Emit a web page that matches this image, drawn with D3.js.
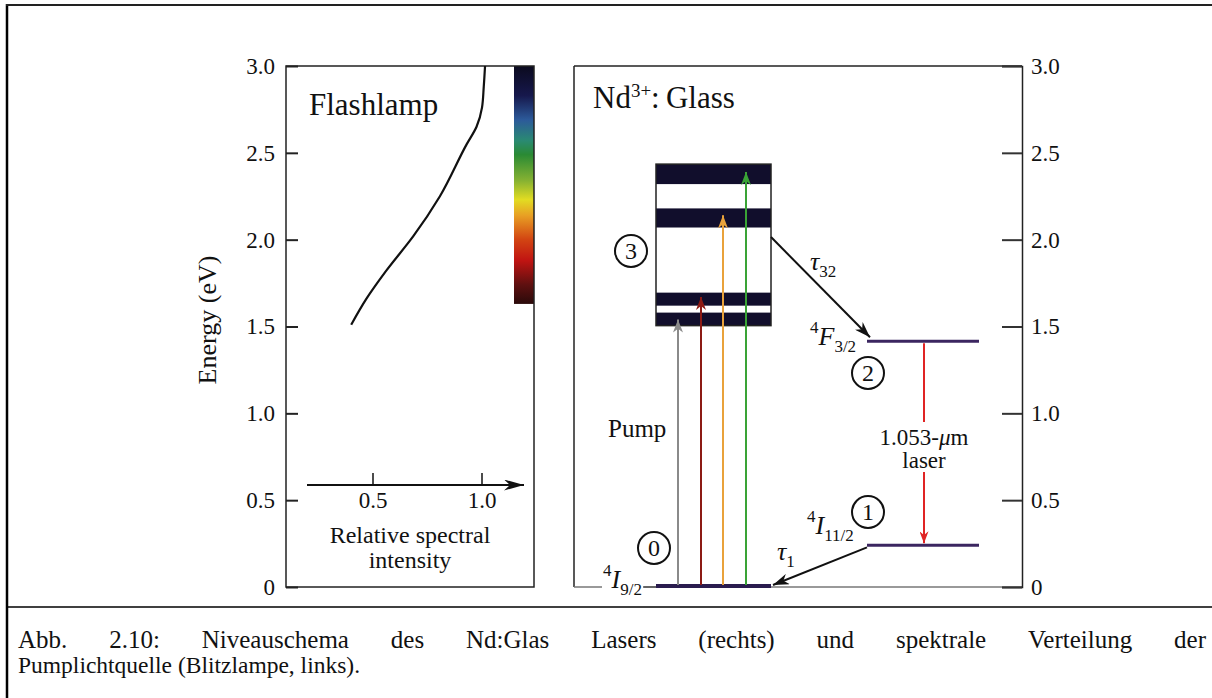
<!DOCTYPE html>
<html>
<head>
<meta charset="utf-8">
<script src="https://cdn.jsdelivr.net/npm/d3@7"></script>
<style>
  body { margin: 0; background: #fff; }
  svg { display: block; }
  svg text { font-family: "Liberation Serif", "Nimbus Roman", "DejaVu Serif", serif !important; fill: #111; }
</style>
</head>
<body>
<script>
// ---- data ----
let energyTicks = [0, 0.5, 1.0, 1.5, 2.0, 2.5, 3.0]
let energyLabels = ["0", "0.5", "1.0", "1.5", "2.0", "2.5", "3.0"]

// flashlamp spectrum (relative intensity vs energy in eV)
let lampIntensity = [0.40, 0.47, 0.56, 0.685, 0.807, 0.93, 0.975, 1.0, 1.008, 1.014]
let lampEnergy = [1.51, 1.66, 1.82, 2.02, 2.25, 2.55, 2.65, 2.76, 2.88, 3.0]
let intensityTicks = [0.5, 1.0]
let intensityLabels = ["0.5", "1.0"]

// visible spectrum strip next to the lamp curve
let spectrumEnergy = [3.0, 2.83, 2.69, 2.57, 2.49, 2.34, 2.23, 2.14, 2.0, 1.88, 1.74, 1.63]
let spectrumColor = ["#0b0a1e", "#16184c", "#2c5a9a", "#2a8a72", "#2a8a34", "#86b232",
                     "#e2dc22", "#e8a024", "#d24412", "#c01412", "#5e1010", "#2a0a0a"]

// pump bands of level 3, ground / laser levels (eV)
let bandLow = [1.505, 1.62, 2.07, 2.32]
let bandHigh = [1.58, 1.695, 2.18, 2.435]
let pumpEnergy = [1.54, 1.67, 2.14, 2.39]
let pumpColor = ["#8a8a8a", "#8c1a14", "#e9a23b", "#3aa336"]
let levelUpper = 1.415   // 4F3/2
let levelLower = 0.24    // 4I11/2
let levelGround = 0      // 4I9/2

let captionLines = [
  "Abb. 2.10:  Niveauschema des Nd:Glas Lasers (rechts) und spektrale Verteilung der",
  "Pumplichtquelle (Blitzlampe, links)."
]

// ---- layout ----
let width = 1212, height = 698

let svg = d3.select("body").append("svg")
    .attr("width", width)
    .attr("height", height)
    .attr("font-family", "Liberation Serif")

let defs = svg.append("defs")

// shared energy scale for both panels
let y = d3.scaleLinear().domain([0, 3]).range([587, 66])
let xI = d3.scaleLinear().domain([0, 1]).range([264, 482])

// arrow head markers
function marker(id, color, len, wid) {
  defs.append("marker")
    .attr("id", id)
    .attr("viewBox", `0 0 ${len} ${wid}`)
    .attr("refX", len).attr("refY", wid / 2)
    .attr("markerWidth", len).attr("markerHeight", wid)
    .attr("markerUnits", "userSpaceOnUse")
    .attr("orient", "auto")
    .append("path")
    .attr("d", `M0,0 L${len},${wid / 2} L0,${wid} L${len * 0.3},${wid / 2} Z`)
    .attr("fill", color)
}
pumpColor.forEach((c, i) => marker("pump" + i, c, 13, 10))
marker("black", "#111", 16, 11)
marker("red", "#e02424", 12, 9)
marker("axis", "#111", 20, 11)

// outer frame (left and top edge) and caption separator
svg.append("line").attr("x1", 7).attr("x2", 7).attr("y1", 4).attr("y2", height)
  .attr("stroke", "#000").attr("stroke-width", 2.5)
svg.append("line").attr("x1", 6).attr("x2", width).attr("y1", 5).attr("y2", 5)
  .attr("stroke", "#222").attr("stroke-width", 2)
svg.append("line").attr("x1", 6).attr("x2", width).attr("y1", 607).attr("y2", 607)
  .attr("stroke", "#000").attr("stroke-width", 1.5)

// ================= left panel: flashlamp =================
let left = svg.append("g")
let lx0 = 286, lx1 = 534

// spectrum strip
let grad = defs.append("linearGradient").attr("id", "spec")
  .attr("gradientUnits", "userSpaceOnUse")
  .attr("x1", 0).attr("x2", 0).attr("y1", y(3)).attr("y2", y(1.63))
grad.selectAll("stop").data(spectrumEnergy).enter().append("stop")
  .attr("offset", d => (y(d) - y(3)) / (y(1.63) - y(3)))
  .attr("stop-color", (d, i) => spectrumColor[i])
left.append("rect")
  .attr("x", 514).attr("width", lx1 - 514)
  .attr("y", y(3)).attr("height", y(1.63) - y(3))
  .attr("fill", "url(#spec)")

left.append("rect")
  .attr("x", lx0).attr("y", y(3)).attr("width", lx1 - lx0).attr("height", y(0) - y(3))
  .attr("fill", "none").attr("stroke", "#222").attr("stroke-width", 1.5)

let leftAxis = d3.axisLeft(y).tickValues(energyTicks)
  .tickFormat((d, i) => energyLabels[i]).tickSize(-12).tickPadding(11)
left.append("g").attr("transform", `translate(${lx0},0)`).call(leftAxis)
  .call(g => g.select(".domain").remove())
  .call(g => g.selectAll(".tick line").attr("stroke", "#222").attr("stroke-width", 2))
  .call(g => g.selectAll(".tick text").attr("font-size", 23).attr("fill", "#111"))

left.append("text")
  .attr("transform", "translate(210,320) rotate(-90)")
  .attr("text-anchor", "middle").attr("dominant-baseline", "middle")
  .attr("font-size", 26).text("Energy (eV)")

left.append("text").attr("x", 309).attr("y", 115).attr("font-size", 31).text("Flashlamp")

// lamp curve
let lampLine = d3.line()
  .x(d => xI(d[0])).y(d => y(d[1]))
  .curve(d3.curveMonotoneY)
left.append("path")
  .attr("d", lampLine(lampIntensity.map((v, i) => [v, lampEnergy[i]])))
  .attr("fill", "none").attr("stroke", "#111").attr("stroke-width", 2.2)

// intensity axis arrow
let axY = 485
left.append("line").attr("x1", 307).attr("x2", 524).attr("y1", axY).attr("y2", axY)
  .attr("stroke", "#111").attr("stroke-width", 2).attr("marker-end", "url(#axis)")
left.selectAll(".itick").data(intensityTicks).enter().append("line")
  .attr("x1", d => xI(d)).attr("x2", d => xI(d))
  .attr("y1", axY).attr("y2", axY - 12)
  .attr("stroke", "#111").attr("stroke-width", 1.5)
left.selectAll(".ilab").data(intensityTicks).enter().append("text")
  .attr("x", d => xI(d)).attr("y", 508).attr("text-anchor", "middle")
  .attr("font-size", 23).text((d, i) => intensityLabels[i])
left.append("text").attr("x", 410).attr("y", 543).attr("text-anchor", "middle")
  .attr("font-size", 24).text("Relative spectral")
left.append("text").attr("x", 410).attr("y", 568).attr("text-anchor", "middle")
  .attr("font-size", 24).text("intensity")

// ================= right panel: Nd3+ glass =================
let right = svg.append("g")
let rx0 = 574, rx1 = 1022

right.append("line").attr("x1", rx0).attr("x2", rx0).attr("y1", y(3)).attr("y2", y(0))
  .attr("stroke", "#222").attr("stroke-width", 1.5)
right.append("line").attr("x1", rx0).attr("x2", rx1).attr("y1", y(3)).attr("y2", y(3))
  .attr("stroke", "#222").attr("stroke-width", 1.5)
right.append("line").attr("x1", rx0).attr("x2", rx1).attr("y1", y(0)).attr("y2", y(0))
  .attr("stroke", "#777").attr("stroke-width", 1.5)

let rightAxis = d3.axisRight(y).tickValues(energyTicks)
  .tickFormat((d, i) => energyLabels[i]).tickSize(-20).tickPadding(9)
right.append("g").attr("transform", `translate(${rx1},0)`).call(rightAxis)
  .call(g => g.select(".domain").attr("stroke", "#222").attr("stroke-width", 1.5))
  .call(g => g.selectAll(".tick line").attr("stroke", "#333").attr("stroke-width", 2))
  .call(g => g.selectAll(".tick text").attr("font-size", 23).attr("fill", "#111"))

let title = right.append("text").attr("x", 593).attr("y", 108).attr("font-size", 31)
title.append("tspan").text("Nd")
title.append("tspan").attr("font-size", 19).attr("dy", -11).text("3+")
title.append("tspan").attr("dy", 11).text(":\u2009Glass")

// level 3 block
let bx0 = 656, bx1 = 771
right.selectAll(".band").data(bandLow).enter().append("rect")
  .attr("x", bx0).attr("width", bx1 - bx0)
  .attr("y", (d, i) => y(bandHigh[i]))
  .attr("height", (d, i) => y(d) - y(bandHigh[i]))
  .attr("fill", "#110e2c")
right.append("rect")
  .attr("x", bx0).attr("width", bx1 - bx0)
  .attr("y", y(bandHigh[3])).attr("height", y(bandLow[0]) - y(bandHigh[3]))
  .attr("fill", "none").attr("stroke", "#222").attr("stroke-width", 1.5)

// ground level
right.append("line").attr("x1", bx0).attr("x2", bx1)
  .attr("y1", y(levelGround) - 1).attr("y2", y(levelGround) - 1)
  .attr("stroke", "#2a1c4e").attr("stroke-width", 4)

// pump arrows
let pumpX = [678, 701, 723, 746]
right.selectAll(".pump").data(pumpEnergy).enter().append("line")
  .attr("x1", (d, i) => pumpX[i]).attr("x2", (d, i) => pumpX[i])
  .attr("y1", y(levelGround) - 2).attr("y2", d => y(d))
  .attr("stroke", (d, i) => pumpColor[i]).attr("stroke-width", 2)
  .attr("marker-end", (d, i) => `url(#pump${i})`)

// laser levels
let lvx0 = 867, lvx1 = 979
right.selectAll(".lvl").data([levelUpper, levelLower]).enter().append("line")
  .attr("x1", lvx0).attr("x2", lvx1)
  .attr("y1", d => y(d)).attr("y2", d => y(d))
  .attr("stroke", "#3b2660").attr("stroke-width", 3)

// laser transition
let lz = 924
right.append("line").attr("x1", lz).attr("x2", lz).attr("y1", y(levelUpper) + 2).attr("y2", 422)
  .attr("stroke", "#e02424").attr("stroke-width", 2)
right.append("line").attr("x1", lz).attr("x2", lz).attr("y1", 472).attr("y2", y(levelLower) - 2)
  .attr("stroke", "#e02424").attr("stroke-width", 2).attr("marker-end", "url(#red)")
let lt = right.append("text").attr("x", lz).attr("y", 445).attr("text-anchor", "middle").attr("font-size", 23)
lt.append("tspan").text("1.053-")
lt.append("tspan").attr("font-style", "italic").text("\u03bc")
lt.append("tspan").text("m")
right.append("text").attr("x", lz).attr("y", 468).attr("text-anchor", "middle").attr("font-size", 23).text("laser")

// relaxation arrows
right.append("line").attr("x1", bx1).attr("y1", y(2.015)).attr("x2", 870).attr("y2", y(levelUpper) - 4)
  .attr("stroke", "#111").attr("stroke-width", 2).attr("marker-end", "url(#black)")
right.append("line").attr("x1", lvx0).attr("y1", y(levelLower) + 2).attr("x2", bx1 + 2).attr("y2", y(levelGround) - 2)
  .attr("stroke", "#111").attr("stroke-width", 2).attr("marker-end", "url(#black)")

// italic level / lifetime labels
function termLabel(x, yb, sup, main, sub) {
  let t = right.append("text").attr("x", x).attr("y", yb).attr("font-size", 26).attr("font-style", "italic")
  if (sup) t.append("tspan").attr("font-style", "normal").attr("font-size", 17).attr("dy", -12).text(sup)
  t.append("tspan").attr("dy", sup ? 12 : 0).text(main)
  t.append("tspan").attr("font-style", "normal").attr("font-size", 17).attr("dy", 7).text(sub)
  return t
}
termLabel(810, 270, null, "\u03c4", "32")
termLabel(777, 560, null, "\u03c4", "1")
termLabel(810, 345, "4", "F", "3/2")
termLabel(807, 534, "4", "I", "11/2")
// ground term sits on the bottom line, cut it out
right.append("rect").attr("x", 602).attr("y", y(0) - 3).attr("width", 42).attr("height", 6).attr("fill", "#fff")
termLabel(603, 588, "4", "I", "9/2")
right.append("line").attr("x1", 643).attr("x2", bx0).attr("y1", y(0)).attr("y2", y(0))
  .attr("stroke", "#555").attr("stroke-width", 1.5)

right.append("text").attr("x", 608).attr("y", 437).attr("font-size", 25).text("Pump")

// circled level numbers
let circles = [["3", 631, 251], ["0", 654, 548], ["2", 868, 373], ["1", 868, 512]]
circles.forEach(c => {
  right.append("circle").attr("cx", c[1]).attr("cy", c[2]).attr("r", 16)
    .attr("fill", "none").attr("stroke", "#111").attr("stroke-width", 2)
  right.append("text").attr("x", c[1]).attr("y", c[2] + 8).attr("text-anchor", "middle")
    .attr("font-size", 24).text(c[0])
})

// ================= caption =================
let cap = svg.append("g")
function justify(line, yb, x0, x1) {
  let words = line.split(/\s+/)
  let nodes = words.map(w => cap.append("text").attr("y", yb).attr("font-size", 25).text(w))
  let widths = nodes.map(n => n.node().getComputedTextLength())
  let gap = (x1 - x0 - d3.sum(widths)) / (words.length - 1)
  let x = x0
  nodes.forEach((n, i) => { n.attr("x", x); x += widths[i] + gap })
}
justify(captionLines[0], 648, 18, 1206)
cap.append("text").attr("x", 18).attr("y", 673).attr("font-size", 23.5)
  .text(captionLines[1])
</script>
</body>
</html>
